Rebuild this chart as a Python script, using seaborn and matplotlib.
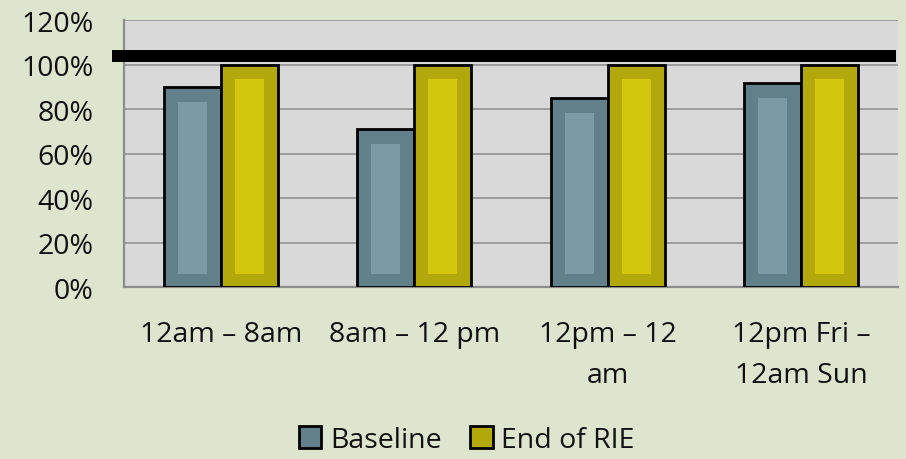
"""
Staffing coverage before / after RIE - grouped bar chart.
"""
import matplotlib
matplotlib.use("Agg")
import matplotlib.pyplot as plt
from matplotlib.patches import Patch, Rectangle
import seaborn as sns
import pandas as pd

SHIFTS = ["12am – 8am", "8am – 12 pm", "12pm – 12\nam", "12pm Fri –\n12am Sun"]
SERIES = ["Baseline", "End of RIE"]
BASELINE = [90, 71, 85, 91.5]
END_OF_RIE = [100, 100, 100, 100]
TARGET = 104
Y_TICKS = [0, 20, 40, 60, 80, 100, 120]

COLORS = {
    "Baseline": "#62808a",
    "End of RIE": "#b2a70b",
}
INNER = {
    "Baseline": "#7a9ba5",
    "End of RIE": "#d3c70e",
}
FIG_BG = "#dee5cf"
PLOT_BG = "#d9d9d9"
GRID = "#8c8c8c"
TEXT = "#111111"

sns.set_theme(style="whitegrid")
plt.rcParams["font.family"] = ["Open Sans", "DejaVu Sans"]

df = pd.DataFrame({
    "shift": SHIFTS * 2,
    "series": [SERIES[0]] * len(SHIFTS) + [SERIES[1]] * len(SHIFTS),
    "value": BASELINE + END_OF_RIE,
})

fig = plt.figure(figsize=(9.06, 4.60), dpi=100, facecolor=FIG_BG)
ax = fig.add_axes([0.1369, 0.3739, 0.8543, 0.5804])
ax.set_facecolor(PLOT_BG)

sns.barplot(data=df, x="shift", y="value", hue="series", order=SHIFTS,
            hue_order=SERIES, palette=COLORS, width=0.59, gap=0,
            edgecolor="black", linewidth=2.0, saturation=1,
            legend=False, ax=ax, zorder=3)

# lighter inner panel on each bar (inset taken from the bar itself)
for cont, name in zip(ax.containers, SERIES):
    for bar in cont:
        x, w, h = bar.get_x(), bar.get_width(), bar.get_height()
        dx = w * 0.245
        ax.add_patch(Rectangle((x + dx, 5.8), w - 2 * dx, h - 12.5,
                               facecolor=INNER[name], edgecolor="none",
                               zorder=4))

ax.axhline(TARGET, xmin=-0.0155, xmax=0.997, color="black",
           linewidth=8.6, solid_capstyle="butt", clip_on=False, zorder=5)

ax.set_ylim(0, 120)
ax.set_yticks(Y_TICKS)
ax.set_yticklabels([f"{t}%" for t in Y_TICKS])
ax.set_xlabel("")
ax.set_ylabel("")
ax.grid(axis="y", color=GRID, linewidth=1.1)
ax.grid(axis="x", visible=False)
ax.tick_params(axis="y", length=0, pad=22, labelsize=20.5, labelcolor=TEXT)
ax.tick_params(axis="x", length=0, pad=24, labelsize=20.5, labelcolor=TEXT)
for lab in ax.get_xticklabels():
    lab.set_linespacing(1.62)
    lab.set_verticalalignment("top")

for side in ["top", "right"]:
    ax.spines[side].set_visible(False)
for side in ["left", "bottom"]:
    ax.spines[side].set_color(GRID)
    ax.spines[side].set_linewidth(1.6)

handles = [Patch(facecolor=COLORS[s], edgecolor="black", linewidth=2.0, label=s)
           for s in SERIES]
leg = fig.legend(handles=handles, loc="lower center", bbox_to_anchor=(0.515, -0.045),
                 ncol=2, frameon=False, fontsize=20.5, handlelength=0.8,
                 handleheight=0.8, handletextpad=0.3, columnspacing=1.0)
for t in leg.get_texts():
    t.set_color(TEXT)

fig.savefig("out.png", dpi=100, facecolor=FIG_BG)
